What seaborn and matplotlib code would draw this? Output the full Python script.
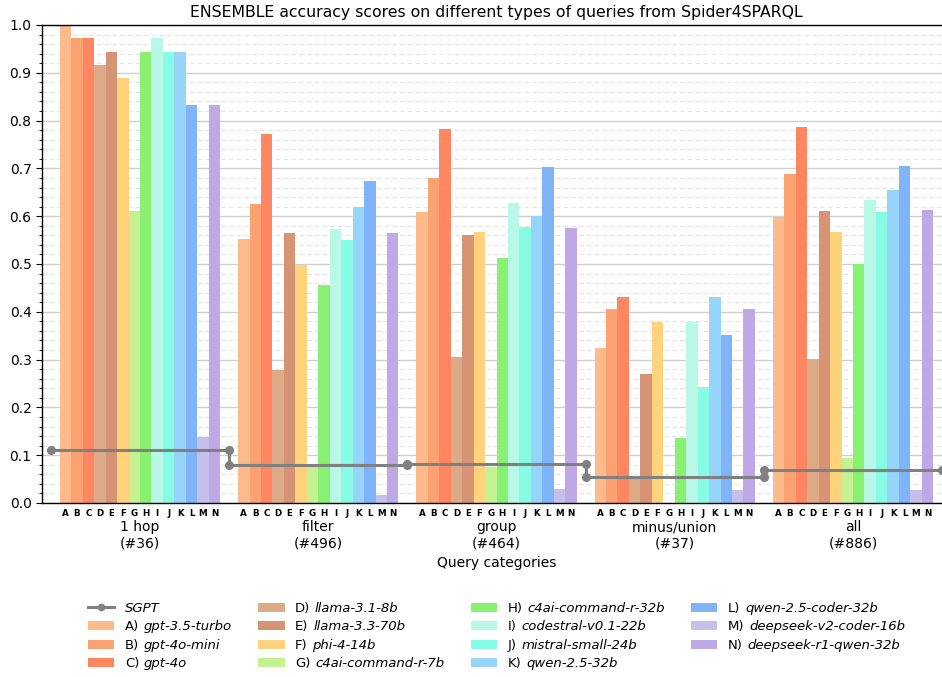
import numpy as np
import pandas as pd
import matplotlib
matplotlib.use("Agg")
import matplotlib.pyplot as plt
import matplotlib.transforms as mtransforms
from matplotlib.lines import Line2D
from matplotlib.patches import Patch
from matplotlib.ticker import MultipleLocator
from matplotlib.offsetbox import HPacker, TextArea
import seaborn as sns

# ---------------- data ----------------
categories = ["1 hop", "filter", "group", "minus/union", "all"]
counts = [36, 496, 464, 37, 886]
letters = list("ABCDEFGHIJKLMN")
models = ["gpt-3.5-turbo", "gpt-4o-mini", "gpt-4o", "llama-3.1-8b", "llama-3.3-70b",
          "phi-4-14b", "c4ai-command-r-7b", "c4ai-command-r-32b", "codestral-v0.1-22b",
          "mistral-small-24b", "qwen-2.5-32b", "qwen-2.5-coder-32b",
          "deepseek-v2-coder-16b", "deepseek-r1-qwen-32b"]
colors = ["#FDBB8C", "#FCA171", "#FF8660", "#DDAA88", "#D69474", "#FFD37B", "#C5F290",
          "#89F171", "#B9F7E6", "#87FCE4", "#97D4F9", "#80B4F9", "#C6BFEA", "#BEA9E6"]

scores_1hop = [1.000, 0.972, 0.972, 0.917, 0.944, 0.889, 0.611, 0.944, 0.972, 0.944, 0.944, 0.833, 0.139, 0.833]
scores_filter = [0.552, 0.626, 0.772, 0.278, 0.565, 0.498, 0.078, 0.456, 0.573, 0.550, 0.619, 0.674, 0.017, 0.565]
scores_group = [0.609, 0.680, 0.782, 0.305, 0.561, 0.567, 0.076, 0.513, 0.628, 0.577, 0.600, 0.703, 0.029, 0.575]
scores_minus = [0.324, 0.405, 0.432, 0.054, 0.270, 0.378, 0.000, 0.135, 0.378, 0.243, 0.432, 0.351, 0.027, 0.405]
scores_all = [0.599, 0.688, 0.787, 0.301, 0.611, 0.567, 0.094, 0.500, 0.634, 0.609, 0.655, 0.705, 0.027, 0.613]
sgpt = [0.111, 0.079, 0.082, 0.054, 0.068]

all_scores = [scores_1hop, scores_filter, scores_group, scores_minus, scores_all]
rows = []
for cat, sc in zip(categories, all_scores):
    for m, v in zip(models, sc):
        rows.append({"category": cat, "model": m, "score": v})
df = pd.DataFrame(rows)

# ---------------- figure ----------------
fig = plt.figure(figsize=(9.42, 6.77), dpi=100)
# axes extends slightly beyond the right edge of the figure (as in the reference)
ax = fig.add_axes([42 / 942, 174 / 677, 909 / 942, 478 / 677])

ax.set_axisbelow(True)
ax.yaxis.set_major_locator(MultipleLocator(0.1))
ax.yaxis.set_minor_locator(MultipleLocator(0.02))
ax.grid(which="major", axis="y", color="#cfcfcf", lw=1.0, zorder=0)
ax.grid(which="minor", axis="y", color="#e3e3e3", lw=0.8, ls=(0, (4, 3)), zorder=0)

group_width = 0.9
sns.barplot(data=df, x="category", y="score", hue="model", order=categories,
            hue_order=models, palette=colors, saturation=1, width=group_width,
            gap=0, errorbar=None, legend=False, ax=ax, zorder=2, linewidth=0)

# SGPT step line
xs, ys = [], []
for i, v in enumerate(sgpt):
    xs += [i - 0.5, i + 0.5]
    ys += [v, v]
ax.plot(xs, ys, color="#808080", lw=2.2, marker="o", ms=5.5, zorder=5, clip_on=False)

ax.set_xlim(-0.55, 4.55)
ax.set_ylim(0, 1.0)

# letter ticks
w = group_width / len(models)
pos, labs = [], []
for i in range(len(categories)):
    for j, L in enumerate(letters):
        pos.append(i - group_width / 2 + w / 2 + j * w)
        labs.append(L)
ax.set_xticks(pos)
ax.set_xticklabels(labs, fontsize=6.3, fontweight="bold")
ax.tick_params(axis="x", length=0, pad=4)
ax.tick_params(axis="y", which="major", length=4, labelsize=10)
ax.tick_params(axis="y", which="minor", length=2.5)

trans = mtransforms.blended_transform_factory(ax.transData, ax.transAxes)
for i, (c, n) in enumerate(zip(categories, counts)):
    ax.text(i, -0.036, f"{c}\n(#{n})", transform=trans, ha="center", va="top",
            fontsize=10, linespacing=1.2)

ax.set_xlabel("Query categories", fontsize=10)
ax.xaxis.set_label_coords(0.5, -0.110)
ax.set_ylabel("")
ax.set_title("ENSEMBLE accuracy scores on different types of queries from Spider4SPARQL",
             fontsize=11.3, pad=6)

ax.spines["right"].set_visible(False)
for s in ["left", "bottom", "top"]:
    ax.spines[s].set_color("black")
    ax.spines[s].set_linewidth(1.0)

handles = [Line2D([], [], color="#808080", lw=2.2, marker="o", ms=4.5, label="SGPT")]
for L, m, c in zip(letters, models, colors):
    handles.append(Patch(facecolor=c, edgecolor="none", label=f"{L})"))

leg_fs = 9.5
leg = ax.legend(handles=handles, ncol=4, frameon=False, loc="upper center",
                bbox_to_anchor=(0.5, -0.182), fontsize=leg_fs, labelspacing=0.42)

# make model names italic, keeping the "X)" prefix upright
k = 0
for col in leg._legend_handle_box.get_children():
    for item in col.get_children():
        h, t = item.get_children()
        if k == 0:
            t._text.set_fontstyle("italic")
        else:
            extra = TextArea(models[k - 1],
                             textprops=dict(fontstyle="italic", fontsize=leg_fs,
                                            verticalalignment="baseline",
                                            horizontalalignment="left"))
            new = HPacker(children=[t, extra], sep=3.3, pad=0, align="baseline")
            new.set_figure(fig)
            item._children[1] = new
        k += 1

fig.savefig("out.png", dpi=100)
